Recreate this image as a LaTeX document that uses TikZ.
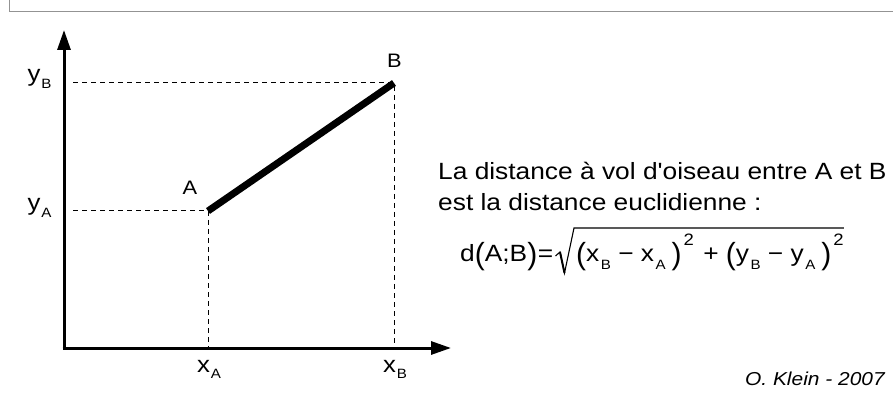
\documentclass[tikz,border=0pt]{standalone}
\usepackage{fontspec}
\usepackage{graphicx}
\setmainfont{Liberation Sans}[FakeStretch=1.12, Ligatures=TeXOff]
\usetikzlibrary{arrows.meta}
\newcommand{\tallp}[1]{\raisebox{-0.1em}{\scalebox{1.14}[1.3]{#1}}}
\newcommand{\midp}[1]{\raisebox{-0.1em}{\scalebox{1.14}[1.3]{#1}}}
\newcommand{\fsub}[1]{\raisebox{-8pt}{\fontsize{13.5}{13.5}\selectfont #1}}
\newcommand{\fsup}[1]{\raisebox{17pt}{\fontsize{16.5}{16.5}\selectfont #1}}
\newcommand{\asub}[1]{\hspace{0.8pt}\raisebox{-6.5pt}{\fontsize{13.5}{13.5}\selectfont #1}}
\begin{document}
\begin{tikzpicture}[x=1pt,y=1pt,
  frame/.style={draw=gray!85, line width=1.3pt},
  axis/.style={line width=3pt, -{Triangle[length=20pt,width=13pt]}},
  guide/.style={line width=1pt, dash pattern=on 5pt off 4pt},
  seg/.style={line width=7pt},
  lab/.style={inner sep=0pt, anchor=base west, font=\fontsize{19.5}{22}\selectfont},
  alab/.style={inner sep=0pt, anchor=base west, font=\fontsize{23}{26}\selectfont},
  txt/.style={inner sep=0pt, anchor=base west, font=\fontsize{23.5}{28}\selectfont},
  radical/.style={line width=1.1pt, line join=miter}]
\useasboundingbox (0,0) rectangle (894,394);
\draw[frame] (9.5,394) -- (9.5,382.5) -- (893,382.5);
% axes
\coordinate (O) at (64,46);
\coordinate (ytip) at (64,364);
\coordinate (xtip) at (451,46);
\draw[axis] (O) -- (ytip);
\draw[axis] ([xshift=-1.5pt]O) -- (xtip);
% points
\coordinate (A) at (208,183);
\coordinate (B) at (394,311);
\coordinate (Ay) at (73,183);
\coordinate (By) at (73,311);
\coordinate (Ax) at (208,46);
\coordinate (Bx) at (394,46);
\draw[guide] (Ay) -- (A) -- (Ax);
\draw[guide] (By) -- (B) -- (Bx);
\draw[seg] (A) -- (B);
% labels
\node[lab] (lA) at (182.5,199) {A};
\node[lab] (lB) at (387,326) {B};
\node[alab] (yB) at (27.5,312) {y\asub{B}};
\node[alab] (yA) at (27.5,183) {y\asub{A}};
\node[alab] (xA) at (197,22) {x\asub{A}};
\node[alab] (xB) at (383,22) {x\asub{B}};
% text
\node[txt] (t1) at (438,214) {La distance à vol d'oiseau entre A et B};
\node[txt] (t2) at (438,183) {est la distance euclidienne :};
\node[txt] (lhs) at (460,132) {d\midp{(}A;B\midp{)}\hspace{0.5pt}=};
\node[txt] (rad) at (576,132) {\tallp{(}x\hspace{1.5pt}\fsub{B} − x\hspace{1.5pt}\fsub{A}\hspace{6pt}\tallp{)}\hspace{2pt}\fsup{2}\hspace{2pt} + \tallp{(}y\hspace{1.5pt}\fsub{B} − y\hspace{1.5pt}\fsub{A}\hspace{6pt}\tallp{)}\hspace{2pt}\fsup{2}};
\coordinate (r1) at (555.5,138);
\coordinate (r2) at (560,142);
\coordinate (r3) at (564.5,121);
\coordinate (r4) at (574,166);
\coordinate (r5) at (rad.east |- r4);
\draw[radical] (r1) -- (r2) -- (r3) -- (r4) -- (r5);
\draw[line width=2pt] (r2) -- (r3);
\node[inner sep=0pt, anchor=base east, font=\fontsize{18.7}{22}\selectfont\itshape] (auth) at (885,9) {O. Klein - 2007};
\end{tikzpicture}
\end{document}
